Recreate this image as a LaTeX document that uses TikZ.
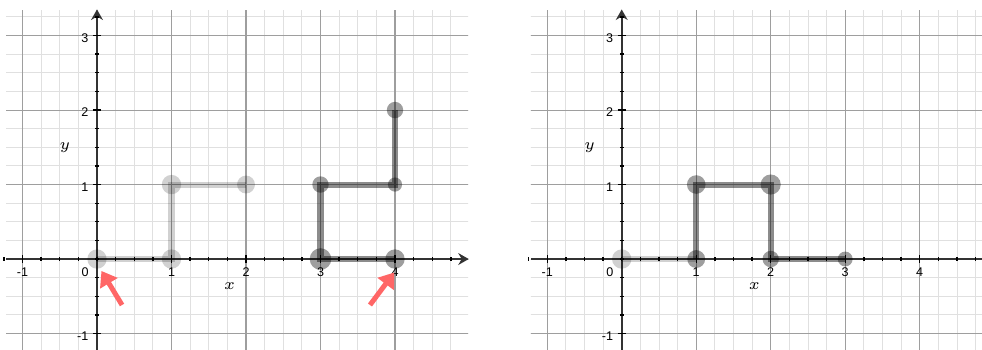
\documentclass[tikz,border=0pt]{standalone}
\usepackage{fontspec}
\setsansfont{Liberation Sans}
\usetikzlibrary{arrows.meta}
\begin{document}
\begin{tikzpicture}[x=1cm,y=1cm,
  minorgrid/.style={draw=black!12, line width=0.35pt},
  majorgrid/.style={draw=black!38, line width=0.4pt},
  axisline/.style={draw=black!80, line width=0.8pt, -{Stealth[length=4pt,width=4.5pt]}},
  tickmark/.style={draw=black, line width=0.5pt},
  ticklbl/.style={font=\sffamily\fontsize{4.8}{5}\selectfont, inner sep=0pt},
  axlbl/.style={font=\fontsize{6.5}{7}\selectfont, inner sep=0pt},
  lightpath/.style={draw=black, draw opacity=0.18, line width=2.3pt},
  lightdot/.style={fill=black, fill opacity=0.18},
  darkpath/.style={draw=black, draw opacity=0.45, line width=2.3pt},
  darkdot/.style={fill=black, fill opacity=0.38},
  redarrow/.style={draw=red!60!white, line width=1.9pt, -{Triangle[length=5.5pt,width=7.5pt]}}
]
\useasboundingbox (-1.302,-1.208) rectangle (11.879,3.477);
\foreach \ox/\pn in {0/L, 7.043/R}{
\begin{scope}[shift={(\ox,0)}]
  \begin{scope}
    \clip (-1.22,-1.3) rectangle (4.98,3.34);
    \draw[minorgrid, step=0.25] (-1.5,-1.5) grid (5.25,3.5);
    \draw[majorgrid, step=1] (-2,-2) grid (5.25,3.5);
  \end{scope}
  \coordinate (\pn xs) at (-1.22,0);
  \coordinate (\pn xe) at (4.99,0);
  \coordinate (\pn ys) at (0,-1.3);
  \coordinate (\pn ye) at (0,3.35);
  \draw[axisline] (\pn xs) -- (\pn xe);
  \draw[axisline] (\pn ys) -- (\pn ye);
  \foreach \t in {-1.25,-1,...,4.76}{\draw[tickmark] (\t,-0.025) -- (\t,0.025);}
  \foreach \t in {-1.25,-1,...,3.26}{\draw[tickmark] (-0.025,\t) -- (0.025,\t);}
  \foreach \t in {-1,1,2,3,4}{\draw[tickmark] (\t,-0.055) -- (\t,0.055);}
  \foreach \t in {-1,1,2,3}{\draw[tickmark] (-0.055,\t) -- (0.055,\t);}
  \foreach \t in {-1,1,2,3,4}{\node[ticklbl] (\pn lx\t) at (\t,-0.17) {\t};}
  \node[ticklbl] (\pn l0) at (-0.16,-0.17) {0};
  \foreach \t in {-1,1,2,3}{\node[ticklbl, anchor=east] (\pn ly\t) at (-0.11,\t-0.03) {\t};}
  \node[axlbl] (\pn xl) at (1.78,-0.37) {$x$};
  \node[axlbl] (\pn yl) at (-0.43,1.5) {$y$};
\end{scope}
}
% left panel paths
\draw[lightpath] (0,0) -- (1,0) -- (1,1) -- (2,1);
\fill[lightdot] (0,0) circle (0.13);
\fill[lightdot] (1,0) circle (0.13);
\fill[lightdot] (1,1) circle (0.13);
\fill[lightdot] (2,1) circle (0.12);
\draw[darkpath] (4,0) -- (3,0) -- (3,1) -- (4,1) -- (4,2);
\fill[darkdot] (3,0) circle (0.145);
\fill[darkdot] (4,0) circle (0.13);
\fill[darkdot] (3,1) circle (0.11);
\fill[darkdot] (4,1) circle (0.095);
\fill[darkdot] (4,2) circle (0.11);
\coordinate (a1s) at (0.336,-0.617);
\coordinate (a1e) at (0.06,-0.16);
\coordinate (a2s) at (3.664,-0.617);
\coordinate (a2e) at (3.99,-0.18);
\draw[redarrow] (a1s) -- (a1e);
\draw[redarrow] (a2s) -- (a2e);
% right panel paths
\begin{scope}[shift={(7.043,0)}]
\draw[lightpath] (0,0) -- (1,0);
\fill[lightdot] (0,0) circle (0.13);
\draw[darkpath] (1,0) -- (1,1) -- (2,1) -- (2,0) -- (3,0);
\fill[darkdot] (1,0) circle (0.12);
\fill[darkdot] (1,1) circle (0.125);
\fill[darkdot] (2,1) circle (0.135);
\fill[darkdot] (2,0) circle (0.11);
\fill[darkdot] (3,0) circle (0.1);
\end{scope}
\end{tikzpicture}
\end{document}
